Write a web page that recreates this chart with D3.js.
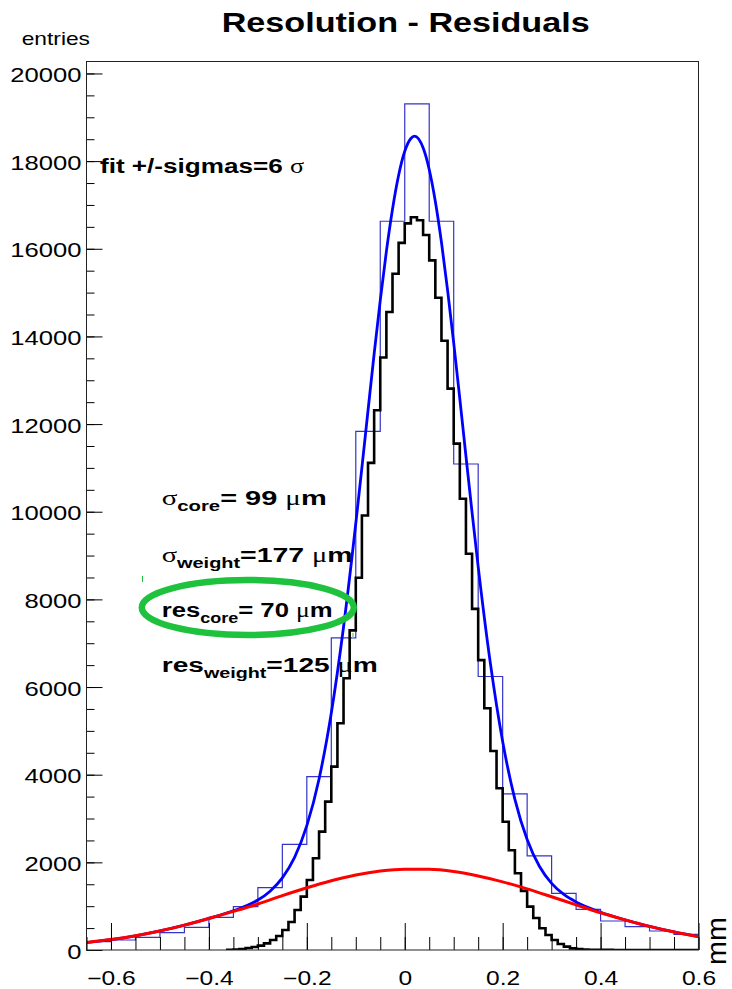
<!DOCTYPE html>
<html>
<head>
<meta charset="utf-8">
<script src="https://cdn.jsdelivr.net/npm/d3@7"></script>
<style>
  html, body { margin: 0; padding: 0; background: #fff; }
  svg { display: block; }
</style>
</head>
<body>
<svg id="chart" width="732" height="989"></svg>
<script>
// ---- Residual distribution data (x in mm, y in entries) ----
const xDomain = [-0.65, 0.6];
const yTop = 20273;

// Coarse histogram (0.05 mm bins starting at -0.65)
const coarseStart = -0.65;
const coarseWidth = 0.05;
const coarseCounts = [190, 228, 289, 395, 518, 746, 989, 1425, 2412, 3957, 7120, 11834,
  16628, 19308, 16628, 11089, 6240, 3562, 2146, 1294, 929, 662, 532, 434, 358];

// Fine histogram (0.0125 mm bins starting at -0.65)
const fineStart = -0.65;
const fineWidth = 0.0125;
const fineCounts = [
  0, 0, 0, 0, 0, 0, 0, 0, 0, 0,
  0, 0, 0, 0, 0, 0, 0, 0, 0, 0,
  0, 0, 0, 5, 10, 23, 46, 70, 100, 152,
  228, 320, 457, 640, 913, 1217, 1598, 2093, 2701, 3386,
  4185, 5175, 6199, 7292, 8493, 9913, 11114, 12317, 13518, 14557,
  15429, 16134, 16580, 16720, 16650, 16315, 15735, 14883, 13902, 12808,
  11553, 10297, 9041, 7783, 6614, 5515, 4541, 3689, 2926, 2275,
  1750, 1350, 990, 730, 495, 342, 228, 137, 76, 38,
  20, 10, 5, 3, 2, 2, 1, 1, 1, 1,
  1, 1, 1, 1, 1, 1, 1, 1, 1, 1];

// Fitted total curve (core + broad)
const fitX = [-0.65, -0.6, -0.55, -0.5, -0.45, -0.4, -0.35, -0.325, -0.3, -0.275, -0.25, -0.225,
  -0.2, -0.175, -0.15, -0.125, -0.1, -0.0875, -0.075, -0.0625, -0.05, -0.0375, -0.025, -0.0125,
  0, 0.0125, 0.02, 0.0375, 0.05, 0.0625, 0.075, 0.0875, 0.1, 0.1125, 0.125, 0.1375, 0.15, 0.175,
  0.2, 0.225, 0.25, 0.275, 0.3, 0.325, 0.35, 0.375, 0.4, 0.45, 0.5, 0.55, 0.6];
const fitY = [170, 238, 325, 435, 568, 722, 895, 1004, 1140, 1342, 1646, 2112,
  2836, 3903, 5409, 7370, 9731, 11008, 12310, 13601, 14821, 15940, 16903, 17677,
  18224, 18516, 18570, 18304, 17810, 17081, 16149, 15058, 13852, 12574, 11272, 9984, 8749, 6534,
  4757, 3438, 2520, 1911, 1521, 1267, 1095, 967, 861, 689, 540, 412, 305];

// Broad (tail) component
const broadX = [-0.65, -0.6, -0.55, -0.5, -0.45, -0.4, -0.35, -0.3, -0.25, -0.2, -0.15, -0.1, -0.05,
  0, 0.05, 0.1, 0.15, 0.2, 0.25, 0.3, 0.35, 0.4, 0.45, 0.5, 0.55, 0.6];
const broadY = [170, 238, 325, 435, 568, 718, 880, 1050, 1240, 1420, 1580, 1710, 1800,
  1842, 1840, 1790, 1690, 1555, 1395, 1215, 1030, 850, 688, 540, 412, 305];

// Axis ticks
const xLabelTicks = [-0.6, -0.4, -0.2, 0, 0.2, 0.4, 0.6];
const yLabelTicks = [0, 2000, 4000, 6000, 8000, 10000, 12000, 14000, 16000, 18000, 20000];

// ---- Layout ----
const frame = { left: 86.5, right: 698.5, top: 61.5, bottom: 950 };
const sansFont = "'Liberation Sans', Arial, Helvetica, sans-serif";
const greekFont = "'Liberation Serif', 'DejaVu Serif', serif";

const svg = d3.select('#chart');
const x = d3.scaleLinear().domain(xDomain).range([frame.left, frame.right]);
const y = d3.scaleLinear().domain([0, yTop]).range([frame.bottom, frame.top]);

svg.append('defs').append('clipPath').attr('id', 'plotClip')
  .append('rect')
  .attr('x', frame.left).attr('y', frame.top - 2)
  .attr('width', frame.right - frame.left).attr('height', frame.bottom - frame.top + 2);

const plot = svg.append('g').attr('clip-path', 'url(#plotClip)');

// Builds a step outline (0 -> bins -> 0) for a histogram
function histOutline(start, width, counts, dropToZero) {
  const first = dropToZero ? 0 : counts.findIndex(v => v > 0);
  const pts = [[start + first * width, 0]];
  for (let i = first; i < counts.length; i++) pts.push([start + i * width, counts[i]]);
  const end = start + counts.length * width;
  pts.push([end, counts[counts.length - 1]]);
  if (dropToZero) pts.push([end, 0]);
  return pts;
}
const stepLine = d3.line().x(d => x(d[0])).y(d => y(d[1])).curve(d3.curveStepAfter);

// Coarse histogram outline
plot.append('path')
  .datum(histOutline(coarseStart, coarseWidth, coarseCounts, true))
  .attr('fill', 'none')
  .attr('stroke', '#3434c8')
  .attr('stroke-width', 1.2)
  .attr('d', stepLine);

// Fine histogram outline
plot.append('path')
  .datum(histOutline(fineStart, fineWidth, fineCounts, false))
  .attr('fill', 'none')
  .attr('stroke', '#000')
  .attr('stroke-width', 2.6)
  .attr('stroke-linejoin', 'miter')
  .attr('d', stepLine);

// Fitted curves
const curveLine = d3.line().x(d => x(d[0])).y(d => y(d[1])).curve(d3.curveMonotoneX);
plot.append('path')
  .datum(d3.zip(fitX, fitY))
  .attr('fill', 'none')
  .attr('stroke', '#0000ff')
  .attr('stroke-width', 2.8)
  .attr('d', curveLine);
plot.append('path')
  .datum(d3.zip(broadX, broadY))
  .attr('fill', 'none')
  .attr('stroke', '#ff0000')
  .attr('stroke-width', 3)
  .attr('d', curveLine);

// ---- Axes (ticks point inwards) ----
const yMinor = d3.range(0, yTop, 500);
const xMinor = d3.range(-0.65, 0.6001, 0.05).map(v => +v.toFixed(3));

const yAxisMinor = svg.append('g').attr('transform', `translate(${frame.left},0)`)
  .call(d3.axisLeft(y).tickValues(yMinor).tickSize(-8).tickFormat(''));
yAxisMinor.select('.domain').remove();

const yAxis = svg.append('g').attr('transform', `translate(${frame.left},0)`)
  .call(d3.axisLeft(y).tickValues(yLabelTicks).tickSize(-16).tickPadding(5).tickFormat(d3.format('d')));
yAxis.select('.domain').remove();

const xAxisMinor = svg.append('g').attr('transform', `translate(0,${frame.bottom})`)
  .call(d3.axisBottom(x).tickValues(xMinor).tickSize(-13).tickFormat(''));
xAxisMinor.select('.domain').remove();

const xAxis = svg.append('g').attr('transform', `translate(0,${frame.bottom})`)
  .call(d3.axisBottom(x).tickValues(xLabelTicks).tickSize(-27).tickPadding(0).tickFormat(d3.format('.1~f')));
xAxis.select('.domain').remove();

svg.selectAll('.tick line').attr('stroke', '#000').attr('stroke-width', 1);

// Widen tick labels horizontally
function widenTicks(sel, fontSize, factor) {
  sel.selectAll('text')
    .attr('font-family', sansFont)
    .attr('font-size', fontSize)
    .attr('fill', '#000')
    .each(function () {
      const w = this.getComputedTextLength();
      this.setAttribute('textLength', (w * factor).toFixed(2));
      this.setAttribute('lengthAdjust', 'spacingAndGlyphs');
    });
}
widenTicks(yAxis, 20, 1.28);
yAxis.selectAll('text').attr('dy', '0.40em');
widenTicks(xAxis, 19.5, 1.26);
// baseline just above the lower edge of the page
xAxis.selectAll('text').attr('y', 34.5).attr('dy', null);

// Frame
svg.append('rect')
  .attr('x', frame.left).attr('y', frame.top)
  .attr('width', frame.right - frame.left).attr('height', frame.bottom - frame.top)
  .attr('fill', 'none').attr('stroke', '#222').attr('stroke-width', 1);

// ---- Text helper: mixed runs (subscripts, Greek) fitted to a width ----
function richLabel(xPos, yBase, width, size, weight, parts) {
  const t = svg.append('text')
    .attr('x', xPos)
    .attr('y', yBase)
    .attr('font-family', sansFont)
    .attr('font-size', size)
    .attr('font-weight', weight)
    .attr('fill', '#000');
  let shift = 0;
  parts.forEach(p => {
    const ts = t.append('tspan').text(p.t);
    const target = p.sub ? size * 0.3 : 0;
    if (target !== shift) ts.attr('dy', target - shift);
    shift = target;
    if (p.sub) ts.attr('font-size', size * 0.7);
    if (p.greek) ts.attr('font-family', greekFont).attr('font-weight', 'normal');
  });
  t.attr('textLength', width).attr('lengthAdjust', 'spacingAndGlyphs');
  return t;
}

// Title and axis titles
richLabel(221.7, 32.3, 368, 28, 'bold', [{ t: 'Resolution - Residuals' }]);
richLabel(21.7, 45, 68.3, 19, 'normal', [{ t: 'entries' }]);
svg.append('text')
  .attr('transform', 'translate(726,965) rotate(-90)')
  .attr('font-family', sansFont)
  .attr('font-size', 28)
  .attr('textLength', 48)
  .attr('lengthAdjust', 'spacingAndGlyphs')
  .attr('fill', '#000')
  .text('mm');

// Fit annotations
richLabel(100, 173.3, 204, 20, 'bold', [{ t: 'fit +/-sigmas=6 ' }, { t: 'σ', greek: true }]);
richLabel(161.7, 505, 165, 20, 'bold', [{ t: 'σ', greek: true }, { t: 'core', sub: true }, { t: '= 99 ' }, { t: 'μ', greek: true }, { t: 'm' }]);
richLabel(161.7, 561.7, 191, 20, 'bold', [{ t: 'σ', greek: true }, { t: 'weight', sub: true }, { t: '=177 ' }, { t: 'μ', greek: true }, { t: 'm' }]);
richLabel(161.7, 616.7, 171, 20, 'bold', [{ t: 'res' }, { t: 'core', sub: true }, { t: '= 70 ' }, { t: 'μ', greek: true }, { t: 'm' }]);
richLabel(161.7, 671.7, 216, 20, 'bold', [{ t: 'res' }, { t: 'weight', sub: true }, { t: '=125 ' }, { t: 'μ', greek: true }, { t: 'm' }]);

// Highlight ring around the core resolution
svg.append('ellipse')
  .attr('cx', 247.8).attr('cy', 607.5)
  .attr('rx', 106).attr('ry', 27.5)
  .attr('fill', 'none')
  .attr('stroke', '#1ec23c')
  .attr('stroke-width', 6.5);
svg.append('line')
  .attr('x1', 142.5).attr('x2', 142.5).attr('y1', 576).attr('y2', 582)
  .attr('stroke', '#1ec23c').attr('stroke-width', 1);
svg.append('line')
  .attr('x1', 353).attr('x2', 353).attr('y1', 633).attr('y2', 638)
  .attr('stroke', '#7ad88a').attr('stroke-width', 1.5);
</script>
</body>
</html>
